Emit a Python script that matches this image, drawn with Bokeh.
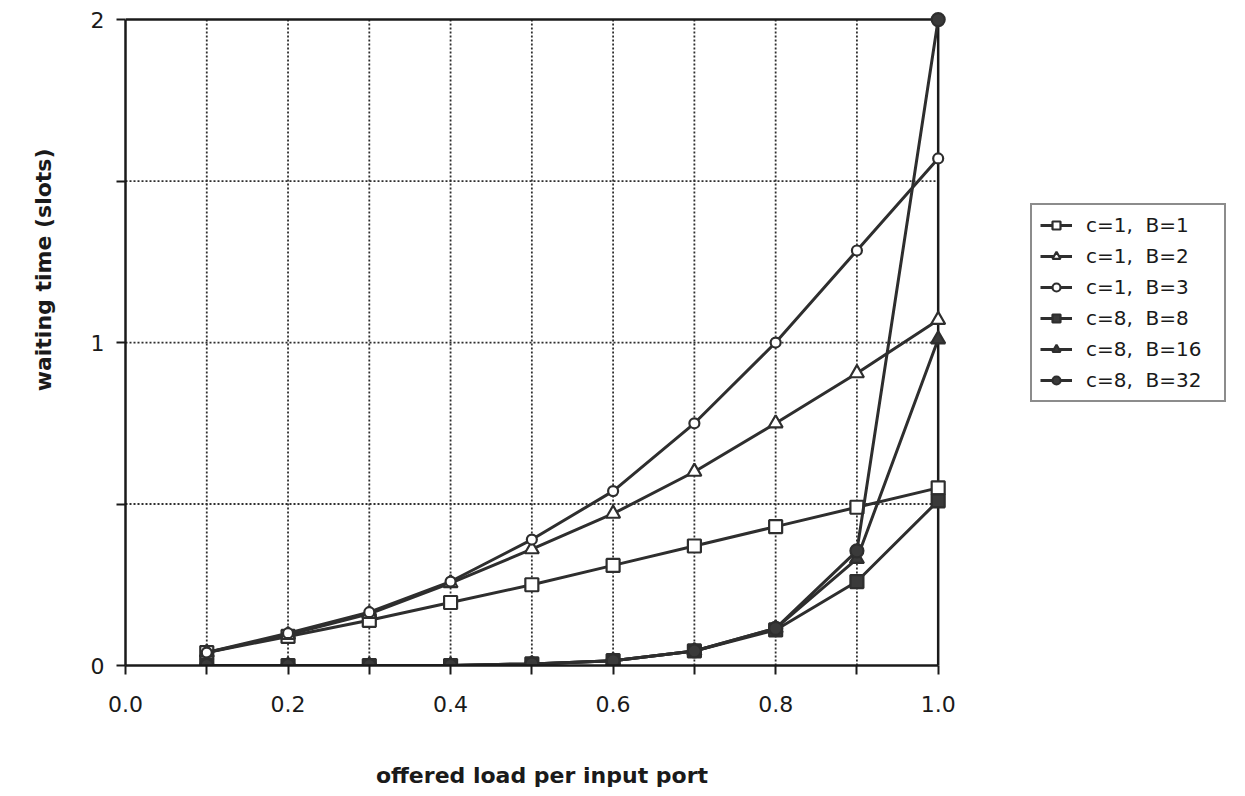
from bokeh.plotting import figure
from bokeh.layouts import row
from bokeh.models import Range1d, FixedTicker, Legend, LegendItem, Title, CustomJSTickFormatter
from bokeh.embed import file_html
from bokeh.resources import INLINE

# ---------------- data ----------------
load = [0.1, 0.2, 0.3, 0.4, 0.5, 0.6, 0.7, 0.8, 0.9, 1.0]
c1_B1 = [0.04, 0.09, 0.14, 0.195, 0.25, 0.31, 0.37, 0.43, 0.49, 0.55]
c1_B2 = [0.04, 0.095, 0.16, 0.255, 0.36, 0.47, 0.60, 0.75, 0.905, 1.07]
c1_B3 = [0.04, 0.10, 0.165, 0.26, 0.39, 0.54, 0.75, 1.00, 1.285, 1.57]
c8_B8 = [0.0, 0.0, 0.0, 0.0, 0.005, 0.015, 0.045, 0.11, 0.26, 0.51]
c8_B16 = [0.0, 0.0, 0.0, 0.0, 0.005, 0.015, 0.045, 0.115, 0.33, 1.01]
c8_B32 = [0.0, 0.0, 0.0, 0.0, 0.005, 0.015, 0.045, 0.115, 0.355, 2.0]
series_names = ["c=1,  B=1", "c=1,  B=2", "c=1,  B=3", "c=8,  B=8", "c=8,  B=16", "c=8,  B=32"]
series_values = [c1_B1, c1_B2, c1_B3, c8_B8, c8_B16, c8_B32]

x_ticks = [0.0, 0.2, 0.4, 0.6, 0.8, 1.0]
x_tick_labels = ["0.0", "0.2", "0.4", "0.6", "0.8", "1.0"]
x_minor_ticks = [0.1, 0.3, 0.5, 0.7, 0.9]
y_ticks = [0, 1, 2]
y_tick_labels = ["0", "1", "2"]
y_minor_ticks = [0.5, 1.5]
x_grid = [0.1, 0.2, 0.3, 0.4, 0.5, 0.6, 0.7, 0.8, 0.9]
y_grid = [0.5, 1.0, 1.5]
x_label = "offered load per input port"
y_label = "waiting time (slots)"

# ---------------- styles ----------------
DARK = "#2e2e2e"
INK = "#1a1a1a"
FILL_DARK = "#3a3a3a"
marker_styles = [
    ("square", "white", 13),
    ("triangle", "white", 14),
    ("circle", "white", 10),
    ("square", FILL_DARK, 13),
    ("triangle", FILL_DARK, 14),
    ("circle", FILL_DARK, 13),
]

xmax = x_ticks[-1]
ymax = y_ticks[-1]

p = figure(width=965, height=796, output_backend="svg", toolbar_location=None,
           x_range=Range1d(0, 1.025), y_range=Range1d(0, 2.025),
           min_border_left=125, min_border_right=7, min_border_top=11, min_border_bottom=131)
p.outline_line_color = None
p.xgrid.visible = False
p.ygrid.visible = False
p.background_fill_color = "white"
p.border_fill_color = "white"

# grid lines (dotted), limited to the data box
p.segment(x0=x_grid, y0=[0] * len(x_grid), x1=x_grid, y1=[ymax] * len(x_grid),
          line_color=DARK, line_width=1.8, line_dash="2 2")
p.segment(x0=[0] * len(y_grid), y0=y_grid, x1=[xmax] * len(y_grid), y1=y_grid,
          line_color=DARK, line_width=1.8, line_dash="2 2")
# top and right frame lines
p.segment(x0=[0, xmax], y0=[ymax, 0], x1=[xmax, xmax], y1=[ymax, ymax],
          line_color=INK, line_width=2.5)

# axes
fmt_js = "const i = tvals.findIndex(t => Math.abs(t - tick) < 1e-9); return i >= 0 ? tlabels[i] : '';"
p.xaxis.ticker = FixedTicker(ticks=x_ticks, minor_ticks=x_minor_ticks)
p.xaxis.formatter = CustomJSTickFormatter(args=dict(tvals=x_ticks, tlabels=x_tick_labels), code=fmt_js)
p.yaxis.ticker = FixedTicker(ticks=y_ticks, minor_ticks=y_minor_ticks)
p.yaxis.formatter = CustomJSTickFormatter(args=dict(tvals=y_ticks, tlabels=y_tick_labels), code=fmt_js)
p.xaxis.bounds = (0, xmax)
p.yaxis.bounds = (0, ymax)
for ax in (p.xaxis, p.yaxis):
    ax.axis_line_color = INK
    ax.axis_line_width = 2.5
    ax.major_tick_line_color = INK
    ax.major_tick_line_width = 2
    ax.minor_tick_line_color = INK
    ax.minor_tick_line_width = 2
    ax.major_tick_in = 0
    ax.minor_tick_in = 0
    ax.major_tick_out = 9
    ax.minor_tick_out = 9
    ax.major_label_text_font = "DejaVu Sans"
    ax.major_label_text_font_size = "22px"
    ax.major_label_text_color = INK
p.xaxis.major_label_standoff = 21
p.yaxis.major_label_standoff = 12
p.xaxis.axis_label = x_label
p.xaxis.axis_label_text_font = "DejaVu Sans"
p.xaxis.axis_label_text_font_style = "bold"
p.xaxis.axis_label_text_font_size = "22px"
p.xaxis.axis_label_text_color = INK
p.xaxis.axis_label_standoff = 48

# y-axis title
p.add_layout(Title(text=y_label, align="right", offset=137, standoff=59, vertical_align="top",
                   text_font="DejaVu Sans", text_font_style="bold",
                   text_font_size="22px", text_color=INK), "left")

# series
for vals, (marker, fill, size) in zip(series_values, marker_styles):
    p.line(load, vals, line_color=DARK, line_width=3)
    p.scatter(load, vals, marker=marker, size=size, fill_color=fill,
              line_color=DARK, line_width=2.2)

# legend panel (separate canvas to the right so that it is not clipped);
# its series copies sit outside its visible range and only feed the legend glyphs
q = figure(width=280, height=796, output_backend="svg", toolbar_location=None,
           x_range=Range1d(5, 6), y_range=Range1d(5, 6),
           x_axis_location=None, y_axis_location=None,
           min_border_left=0, min_border_right=0, min_border_top=0, min_border_bottom=0)
q.outline_line_color = None
q.xgrid.visible = False
q.ygrid.visible = False
items = []
for name, vals, (marker, fill, size) in zip(series_names, series_values, marker_styles):
    lr = q.line(load, vals, line_color=DARK, line_width=3)
    sr = q.scatter(load, vals, marker=marker, size=size, fill_color=fill,
                   line_color=DARK, line_width=2.2)
    items.append(LegendItem(label=name, renderers=[lr, sr]))
legend = Legend(items=items, location=(65, 263),
                border_line_color=INK, border_line_width=2.2,
                background_fill_color="white", background_fill_alpha=1,
                padding=8, spacing=7, label_height=20, glyph_height=20,
                glyph_width=32, label_standoff=14, label_width=130, margin=0,
                label_text_font="DejaVu Sans", label_text_font_size="20px",
                label_text_color=INK)
q.add_layout(legend)

layout = row(p, q, spacing=0)
open("out.html", "w").write(file_html(layout, INLINE))
